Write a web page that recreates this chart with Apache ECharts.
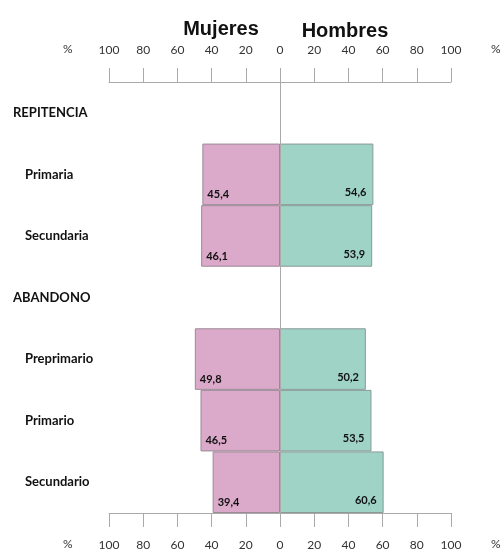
<!DOCTYPE html>
<html>
<head>
<meta charset="utf-8">
<script src="https://cdn.jsdelivr.net/npm/echarts@6/dist/echarts.min.js"></script>
<style>html,body{margin:0;padding:0;background:#fff}#c{width:503px;height:552px}</style>
</head>
<body>
<div id="c"></div>
<script>
const categories = ['REPITENCIA', 'Primaria', 'Secundaria', 'ABANDONO', 'Preprimario', 'Primario', 'Secundario'];
const headers = ['REPITENCIA', 'ABANDONO'];
const mujeres = [null, 45.4, 46.1, null, 49.8, 46.5, 39.4];
const hombres = [null, 54.6, 53.9, null, 50.2, 53.5, 60.6];
const seriesNames = ['Mujeres', 'Hombres'];

const fmtVal = v => Math.abs(v).toFixed(1).replace('.', ',');
const axisFont = { fontFamily: 'Lato', fontSize: 12, color: '#333' };

const chart = echarts.init(document.getElementById('c'));
const xBase = {
  type: 'value', min: -100, max: 100, interval: 20,
  axisLine: { show: true, onZero: false, lineStyle: { color: '#aaa', width: 1 } },
  axisTick: { show: true, length: 14, lineStyle: { color: '#aaa' } },
  splitLine: { show: false },
  axisLabel: Object.assign({ margin: 26, formatter: v => String(Math.abs(v)) }, axisFont)
};
chart.setOption({
  animation: false,
  title: [
    { text: seriesNames[0], left: 216, top: 14, textAlign: 'center',
      textStyle: { fontFamily: 'Liberation Sans', fontWeight: 'bold', fontSize: 20, color: '#111' } },
    { text: seriesNames[1], left: 340, top: 16, textAlign: 'center',
      textStyle: { fontFamily: 'Liberation Sans', fontWeight: 'bold', fontSize: 20, color: '#111' } }
  ],
  grid: { left: 109, right: 52, top: 82, bottom: 39, containLabel: false },
  xAxis: [
    Object.assign({}, xBase, { position: 'top' }),
    Object.assign({}, xBase, { position: 'bottom' })
  ],
  yAxis: {
    type: 'category', data: categories, inverse: true,
    axisLine: { show: false }, axisTick: { show: false },
    axisLabel: {
      margin: 96, align: 'left',
      formatter: v => headers.includes(v) ? '{h|' + v + '}' : '{s|' + v + '}',
      rich: {
        h: { fontFamily: 'Lato', fontWeight: 'bold', fontSize: 13, color: '#111' },
        s: { fontFamily: 'Lato', fontWeight: 'bold', fontSize: 13, color: '#111', padding: [0, 0, 0, 12] }
      }
    }
  },
  graphic: [
    { type: 'text', left: 63, top: 43, style: { text: '%', font: '12px Lato', fill: '#333' } },
    { type: 'text', left: 491, top: 43, style: { text: '%', font: '12px Lato', fill: '#333' } },
    { type: 'text', left: 63, top: 538, style: { text: '%', font: '12px Lato', fill: '#333' } },
    { type: 'text', left: 491, top: 538, style: { text: '%', font: '12px Lato', fill: '#333' } }
  ],
  series: [
    {
      name: seriesNames[0], type: 'bar', xAxisIndex: 0,
      data: mujeres.map(v => v == null ? null : -v),
      barCategoryGap: '0%', barGap: '-100%',
      itemStyle: { color: '#dba9c9', borderColor: '#9a8a95', borderWidth: 1 },
      label: { show: true, position: 'insideBottomLeft', distance: 5, formatter: p => fmtVal(p.value),
        fontFamily: 'Lato', fontWeight: 'bold', fontSize: 11, color: '#111' },
      markLine: {
        silent: true, symbol: 'none', label: { show: false },
        lineStyle: { color: '#aaa', type: 'solid', width: 1 },
        data: [{ xAxis: 0 }]
      }
    },
    {
      name: seriesNames[1], type: 'bar', xAxisIndex: 0,
      data: hombres,
      barCategoryGap: '0%', barGap: '-100%',
      itemStyle: { color: '#9fd3c6', borderColor: '#8a9a96', borderWidth: 1 },
      label: { show: true, position: 'insideBottomRight', distance: 7, formatter: p => fmtVal(p.value),
        fontFamily: 'Lato', fontWeight: 'bold', fontSize: 11, color: '#111' }
    }
  ]
});
</script>
</body>
</html>
